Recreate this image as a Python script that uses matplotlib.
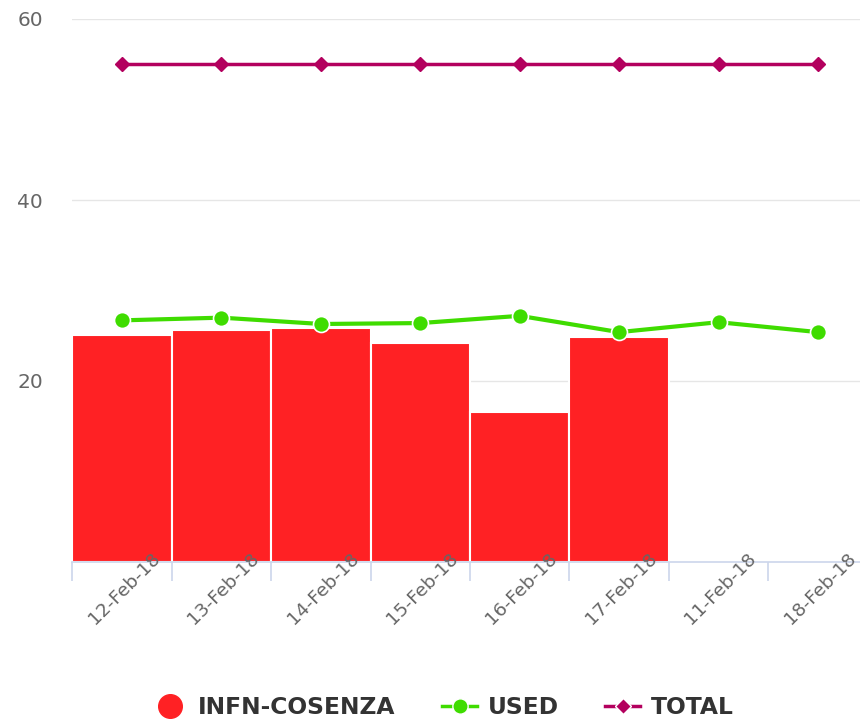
import matplotlib
matplotlib.use("Agg")
import matplotlib.pyplot as plt
from matplotlib.lines import Line2D

categories = ["12-Feb-18", "13-Feb-18", "14-Feb-18", "15-Feb-18", "16-Feb-18",
              "17-Feb-18", "11-Feb-18", "18-Feb-18"]
infn_cosenza = [25.1, 25.6, 25.9, 24.2, 16.6, 24.9, None, None]
used = [26.7, 27.0, 26.3, 26.4, 27.2, 25.4, 26.5, 25.4]
total = [55, 55, 55, 55, 55, 55, 55, 55]

BAR_C = "#FF2124"
USED_C = "#3FDC00"
TOTAL_C = "#B3005E"

plt.rcParams['font.family'] = ['DejaVu Sans']

fig = plt.figure(figsize=(8.6, 7.23), dpi=100)
W, H = 860, 723
left, right = 72.3, 867.7
bottom, top = 562, 19
ax = fig.add_axes([left / W, (H - bottom) / H, (right - left) / W, (bottom - top) / H])

x = list(range(len(categories)))
bx = [i for i, v in zip(x, infn_cosenza) if v is not None]
bv = [v for v in infn_cosenza if v is not None]
ax.bar(bx, bv, width=1.0, color=BAR_C, edgecolor="white", linewidth=1.5, zorder=2)

ax.plot(x, total, color=TOTAL_C, lw=2.5, marker="D", markersize=7,
        markeredgecolor=TOTAL_C, zorder=4)
ax.plot(x, used, color=USED_C, lw=3, marker="o", markersize=11.5,
        markeredgecolor="white", markeredgewidth=1.2, zorder=5)

ax.set_xlim(-0.5, len(categories) - 0.5)
ax.set_ylim(0, 60)
ax.set_yticks([20, 40, 60])
ax.grid(axis="y", color="#e6e6e6", lw=1, zorder=0)
ax.set_axisbelow(True)
for s in ["top", "right", "left"]:
    ax.spines[s].set_visible(False)
ax.spines["bottom"].set_color("#ccd6eb")
ax.spines["bottom"].set_linewidth(1.2)
ax.tick_params(axis="y", length=0, labelsize=14.5, labelcolor="#666666", pad=21)
ax.set_xticks([i - 0.5 for i in range(len(categories) + 1)])
ax.set_xticklabels([])
ax.tick_params(axis="x", length=14, width=1.2, color="#ccd6eb", direction="out")

for i, lab in enumerate(categories):
    ax.annotate(lab, xy=(i, 0), xycoords=("data", "axes fraction"),
                xytext=(1.5, -19), textcoords="offset points",
                rotation=45, ha="center", va="center",
                fontsize=13.3, color="#666666", annotation_clip=False)

handles = [
    Line2D([], [], color=BAR_C, marker="o", linestyle="none", markersize=17),
    Line2D([], [], color=USED_C, marker="o", lw=2.5, markersize=11,
           markeredgecolor="white", markeredgewidth=1.0),
    Line2D([], [], color=TOTAL_C, marker="D", lw=2.5, markersize=8,
           markeredgecolor="white", markeredgewidth=1.0),
]
leg = fig.legend(handles, ["INFN-COSENZA", "USED", "TOTAL"], loc="center",
                 bbox_to_anchor=(443 / W, (H - 708) / H), ncol=3, frameon=False,
                 handlelength=1.5, handletextpad=0.45, columnspacing=2.0,
                 prop={"size": 16.8, "weight": "bold"})
for t in leg.get_texts():
    t.set_color("#333333")

fig.savefig("out.png", dpi=100)
